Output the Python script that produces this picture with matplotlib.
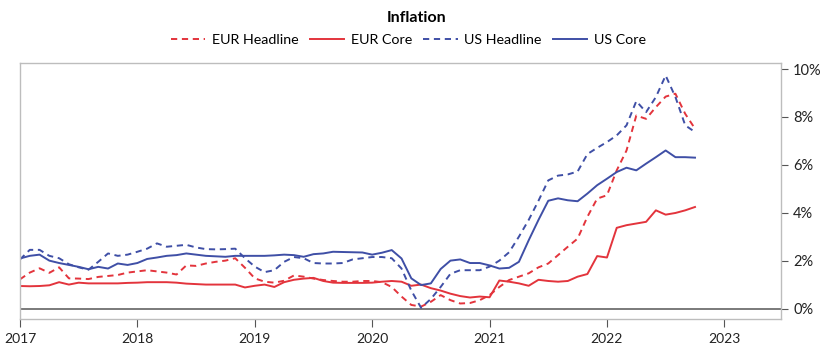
import numpy as np
import matplotlib
matplotlib.use('Agg')
import matplotlib.pyplot as plt
from matplotlib.ticker import FuncFormatter

plt.rcParams['font.family'] = ['Lato', 'DejaVu Sans']

# monthly values, Dec 2016 .. Sep 2022
eur_headline = [1.22, 1.50, 1.68, 1.49, 1.72, 1.26, 1.25, 1.23, 1.32, 1.36,
                1.40, 1.50, 1.55, 1.60, 1.55, 1.50, 1.42, 1.80, 1.78, 1.88,
                1.95, 2.00, 2.10, 1.70, 1.26, 1.12, 1.08, 1.16, 1.38, 1.33,
                1.25, 1.19, 1.15, 1.12, 1.12, 1.15, 1.15, 1.10, 0.90, 0.50,
                0.15, 0.08, 0.28, 0.56, 0.35, 0.21, 0.23, 0.35, 0.56, 0.90,
                1.19, 1.33, 1.47, 1.72, 1.88, 2.23, 2.58, 2.92, 3.83, 4.59,
                4.73, 5.77, 6.60, 8.06, 7.92, 8.41, 8.85, 8.97, 8.13, 7.51]
eur_core = [0.94, 0.93, 0.94, 0.97, 1.10, 1.00, 1.08, 1.05, 1.05, 1.05,
            1.05, 1.07, 1.08, 1.10, 1.10, 1.10, 1.08, 1.04, 1.02, 1.00,
            1.00, 1.00, 1.00, 0.88, 0.95, 1.00, 0.90, 1.10, 1.20, 1.25,
            1.28, 1.15, 1.08, 1.07, 1.07, 1.07, 1.08, 1.12, 1.15, 1.12,
            0.95, 1.00, 0.85, 0.75, 0.62, 0.52, 0.46, 0.50, 0.47, 1.17,
            1.12, 1.05, 0.95, 1.20, 1.15, 1.12, 1.15, 1.33, 1.44, 2.19,
            2.13, 3.37, 3.48, 3.55, 3.62, 4.10, 3.92, 3.99, 4.10, 4.24]
us_headline = [2.05, 2.45, 2.45, 2.20, 2.10, 1.85, 1.72, 1.62, 1.95, 2.30,
               2.20, 2.25, 2.37, 2.50, 2.72, 2.58, 2.62, 2.66, 2.55, 2.48,
               2.47, 2.48, 2.50, 2.10, 1.75, 1.52, 1.60, 1.95, 2.15, 2.10,
               1.90, 1.88, 1.88, 1.90, 2.05, 2.10, 2.15, 2.15, 2.10, 1.67,
               0.75, 0.03, 0.40, 0.90, 1.45, 1.60, 1.60, 1.60, 1.75, 2.00,
               2.35, 3.00, 3.70, 4.50, 5.35, 5.55, 5.60, 5.72, 6.45, 6.71,
               6.95, 7.23, 7.65, 8.66, 8.20, 8.83, 9.73, 8.83, 7.65, 7.37]
us_core = [2.09, 2.20, 2.25, 2.00, 1.90, 1.82, 1.74, 1.64, 1.74, 1.67,
           1.88, 1.82, 1.90, 2.07, 2.13, 2.20, 2.23, 2.30, 2.25, 2.20,
           2.18, 2.16, 2.20, 2.20, 2.20, 2.20, 2.22, 2.25, 2.23, 2.16,
           2.27, 2.30, 2.37, 2.36, 2.35, 2.34, 2.25, 2.33, 2.44, 2.09,
           1.26, 0.98, 1.05, 1.65, 2.00, 2.05, 1.90, 1.90, 1.80, 1.67,
           1.70, 1.95, 2.85, 3.70, 4.50, 4.60, 4.52, 4.48, 4.80, 5.15,
           5.42, 5.70, 5.88, 5.77, 6.05, 6.32, 6.60, 6.32, 6.32, 6.30]

years = [2017, 2018, 2019, 2020, 2021, 2022, 2023]
x = 2017 + np.arange(len(us_core)) / 12.0

red = '#e3343c'
blue = '#3f4fa6'

fig = plt.figure(figsize=(8.4, 3.57), dpi=100)
ax = fig.add_axes([0.0238, 0.1056, 0.9056, 0.7171])

ax.axhline(0, color='#7a7a7a', lw=1.4, zorder=1)
ax.plot(x, eur_headline, color=red, lw=1.4, ls=(0, (3.2, 2.4)), label='EUR Headline')
ax.plot(x, eur_core, color=red, lw=1.4, label='EUR Core')
ax.plot(x, us_headline, color=blue, lw=1.4, ls=(0, (3.2, 2.4)), label='US Headline')
ax.plot(x, us_core, color=blue, lw=1.4, label='US Core')

ax.set_xlim(2017, 2023.48)
ax.set_ylim(-0.45, 10.24)
ax.set_xticks(years)
ax.set_xticklabels([str(y) for y in years])
ax.set_yticks(range(0, 11, 2))
ax.yaxis.set_major_formatter(FuncFormatter(lambda v, p: '%d%%' % v))
ax.yaxis.tick_right()

for s in ax.spines.values():
    s.set_color('#bdbdbd')
    s.set_linewidth(1.0)
ax.tick_params(axis='x', colors='#555555', length=6, width=0.8, labelsize=10, labelcolor='#222222', pad=4)
ax.tick_params(axis='y', colors='#555555', length=5, width=0.8, labelsize=10.5, labelcolor='#222222', pad=4)

fig.text(0.496, 0.95, 'Inflation', fontsize=11.5, fontweight='bold', ha='center', va='center')
fig.legend(loc='center', bbox_to_anchor=(0.486, 0.888), ncol=4, frameon=False,
           fontsize=10.3, handlelength=2.4, columnspacing=0.8, handletextpad=0.45,
           borderaxespad=0, borderpad=0)

fig.savefig('out.png', dpi=100, facecolor='white')
